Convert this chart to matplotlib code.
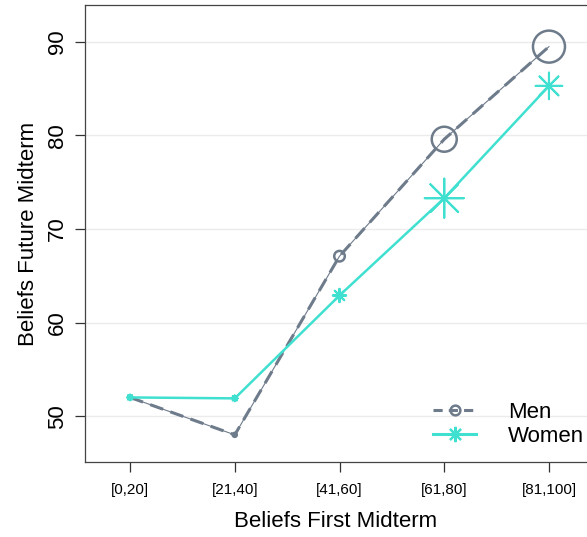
import matplotlib.pyplot as plt
from matplotlib.lines import Line2D

plt.rcParams["font.family"] = ["Liberation Sans", "DejaVu Sans"]

bins = ["[0,20]", "[21,40]", "[41,60]", "[61,80]", "[81,100]"]
men = [52.0, 48.0, 67.1, 79.6, 89.5]
women = [52.0, 51.9, 62.9, 73.3, 85.3]
# relative number of observations per bin (drives marker size)
men_n = [1, 1, 7, 39, 64]
women_n = [2, 2, 11, 95, 44]

slate = "#6E7B8B"
turq = "#40E0D0"

fig = plt.figure(figsize=(5.87, 5.37), dpi=100)
ax = fig.add_axes([0.1448, 0.1397, 0.8552, 0.851])
x = list(range(len(bins)))

ax.grid(axis="y", color="#ebebeb", lw=1.0, zorder=0)
ax.set_axisbelow(True)

# men: thick dashed line with a thin solid line on top
ax.plot(x, men, color=slate, lw=2.2, ls=(0, (4.5, 2.5)), zorder=2)
ax.plot(x, men, color=slate, lw=0.8, zorder=2)
ax.scatter(x, men, s=[n * 8.3 for n in men_n], facecolors="none",
           edgecolors=slate, linewidths=1.8, zorder=3)

# women
ax.plot(x, women, color=turq, lw=1.8, zorder=2)
ax.scatter(x, women, s=[n * 8.3 for n in women_n], marker=(8, 2, 0),
           color=turq, linewidths=1.5, zorder=3)

ax.set_xlim(-0.43, 4.363)
ax.set_ylim(45.1, 93.95)
ax.set_xticks(x)
ax.set_xticklabels(bins, fontsize=11)
ax.set_yticks([50, 60, 70, 80, 90])
ax.set_yticklabels(["50", "60", "70", "80", "90"], fontsize=16,
                   rotation=90, va="center")
ax.tick_params(axis="both", length=7, width=0.9, color="#333333")
ax.tick_params(axis="x", pad=8)
ax.tick_params(axis="y", pad=5)

ax.spines["right"].set_visible(False)
for s in ["left", "top", "bottom"]:
    ax.spines[s].set_color("#444444")
    ax.spines[s].set_linewidth(0.9)

ax.set_xlabel("Beliefs First Midterm", fontsize=16, labelpad=10)
ax.set_ylabel("Beliefs Future Midterm", fontsize=16, labelpad=6)

handles = [
    Line2D([], [], color=slate, lw=2.2, ls=(0, (3, 2)), marker="o",
           markersize=7, markerfacecolor="none", markeredgewidth=1.8),
    Line2D([], [], color=turq, lw=2.2, marker=(8, 2, 0), markersize=11,
           markeredgewidth=1.6),
]
ax.legend(handles, ["Men", "Women"], loc="lower right", frameon=False,
          fontsize=16, handlelength=1.9, handletextpad=1.45,
          labelspacing=0.15, bbox_to_anchor=(1.034, -0.011))

fig.savefig("out.png", dpi=100)
